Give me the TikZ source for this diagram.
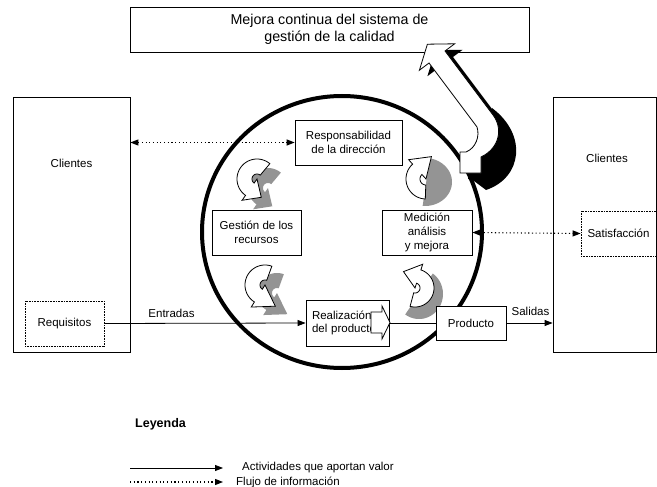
\documentclass[tikz,border=0pt]{standalone}
\usepackage{fontspec}
\setmainfont{Liberation Sans}
\usetikzlibrary{arrows.meta}

% ring-shaped block arrow: #1,#2 centre, #3 inner radius, #4 outer radius,
% #5 start angle (tail), #6 end angle (head), #7 head length, #8 path options
\newcommand\ringarrow[8]{%
  \pgfmathsetmacro\rsgn{sign(#6-#5)}%
  \path[#8] plot[domain=#5:#6,samples=40,variable=\t] ({#1+#4*cos(\t)},{#2+#4*sin(\t)})
    -- ({#1+(#4+6)*cos(#6)},{#2+(#4+6)*sin(#6)})
    -- ({#1+(#3+#4)/2*cos(#6)-#7*\rsgn*sin(#6)},{#2+(#3+#4)/2*sin(#6)+#7*\rsgn*cos(#6)})
    -- ({#1+max(#3-6,0)*cos(#6)},{#2+max(#3-6,0)*sin(#6)})
    -- plot[domain=#6:#5,samples=40,variable=\t] ({#1+#3*cos(\t)},{#2+#3*sin(\t)})
    -- cycle;}

\begin{document}
\begin{tikzpicture}[x=1pt,y=-1pt,
  txt/.style={font=\fontsize{11.5}{13.6}\selectfont},
  box/.style={txt,draw,fill=white,line width=0.8pt,rectangle,inner sep=0pt,align=center},
  dotbox/.style={box,dash pattern=on 0.8pt off 0.8pt},
  lbl/.style={txt,inner sep=0pt},
  flow/.style={line width=0.8pt,-{Triangle[length=8pt,width=6pt]}},
  info/.style={line width=1.1pt,dash pattern=on 1.1pt off 2.6pt},
  infotip/.style={-{Triangle[length=8pt,width=6pt]}},
  infoboth/.style={{Triangle[length=8pt,width=6pt]}-{Triangle[length=8pt,width=6pt]}},
  cyc/.style={fill=white,draw,line width=0.8pt,line join=miter},
  cycshade/.style={fill=black!42},
]
\useasboundingbox (0,0) rectangle (657,487);

% customer blocks on both sides
\node[box,minimum width=117pt,minimum height=255pt] (cliL) at (71.5,224.5) {};
\node[lbl] (cliLt) at (71.5,163) {Clientes};
\node[box,minimum width=103pt,minimum height=255pt] (cliR) at (604.5,224.5) {};
\node[lbl] (cliRt) at (607,158) {Clientes};
\node[dotbox,minimum width=79pt,minimum height=45pt] (req) at (64.5,323.5) {Requisitos};
\node[dotbox,minimum width=75pt,minimum height=45pt] (sat) at (618.5,233.5) {Satisfacción};

% process ring
\draw[line width=4pt] (342,232) ellipse [x radius=140, y radius=136];

% cycle arrows with their shading
\ringarrow{257}{179}{5}{20}{310}{125}{14}{cycshade,shift={(11,9)}}
\ringarrow{257}{179}{5}{20}{310}{125}{14}{cyc}
\fill[cycshade] plot[domain=-80:95,samples=40,variable=\t] ({425+27*cos(\t)},{182+24*sin(\t)}) -- cycle;
\ringarrow{426}{179}{6}{20}{92}{228}{19}{cyc}
\ringarrow{265}{285}{5}{20}{290}{122}{20}{cycshade,shift={(12,8)}}
\ringarrow{265}{285}{5}{20}{290}{122}{20}{cyc}
\fill[cycshade] plot[domain=-55:125,samples=40,variable=\t] ({419+24*cos(\t)},{294+25*sin(\t)}) -- cycle;
\ringarrow{415}{288}{5}{19}{105}{-72}{16}{cyc}

% process blocks
\node[box,minimum width=107pt,minimum height=45pt] (resp) at (348.5,142.5) {Responsabilidad\\de la dirección};
\node[box,minimum width=89pt,minimum height=45pt] (gest) at (256.5,232.5) {Gestión de los\\recursos};
\node[box,minimum width=90pt,minimum height=45pt] (med) at (427,232.5) {Medición\\análisis\\y mejora};
\node[box,minimum height=46pt,text width=71pt,inner xsep=6pt,align=left] (real) at (347.5,323) {Realización\\del producto};
\node[box,minimum width=70pt,minimum height=34pt] (prod) at (471,323) {Producto};
\draw[fill=white,line width=0.8pt] (371,312) -- (382,312) -- (382,306) -- (390,322.5)
  -- (382,339) -- (382,333) -- (371,333) -- cycle;

% value-adding flow
\draw[flow] (req.east) -- (real.west);
\node[lbl] (entr) at (171.5,313) {Entradas};
\draw[line width=0.8pt] (real.east) -- (prod.west);
\draw[flow] (prod.east) -- (prod.east -| cliR.west);
\node[lbl] (sal) at (530.5,311) {Salidas};

% information flow
\draw[info,infoboth] (cliL.east |- resp.west) -- (resp.west);
\draw[info,infoboth] (med.east) -- (sat.west);

% continual improvement
\node[box,minimum width=399pt,minimum height=45pt,font=\fontsize{14.3}{17}\selectfont] (title) at (329.5,29.5) {Mejora continua del sistema de\\gestión de la calidad};
\path[fill=black,shift={(8,6)}] (427.4,44.2) -- (454.6,43.8) -- (445,51) -- (493,115)
  .. controls (503,128) and (500,148) .. (481,157) -- (481,173) -- (460,173) -- (460,152)
  -- (466,152) .. controls (476,148) and (480,136) .. (477,127) -- (429,63) -- (419.4,70.2) -- cycle;
\fill[black] (492,108) .. controls (528,135) and (522,178) .. (486,190) -- (470,178) -- (488,150) -- cycle;
\path[fill=white,draw=black,line width=0.8pt] (427.4,44.2) -- (454.6,43.8) -- (445,51) -- (493,115)
  .. controls (503,128) and (500,148) .. (481,157) -- (481,173) -- (460,173) -- (460,152)
  -- (466,152) .. controls (476,148) and (480,136) .. (477,127) -- (429,63) -- (419.4,70.2) -- cycle;

% legend
\node[lbl,anchor=west,font=\fontsize{12.5}{14}\bfseries] (ley) at (135,424) {Leyenda};
\coordinate (l1a) at (130,468);
\coordinate (l1b) at (223,468);
\draw[flow] (l1a) -- (l1b);
\node[lbl,anchor=west] (l1t) at (242,468) {Actividades que aportan valor};
\coordinate (l2a) at (130,482);
\coordinate (l2b) at (223,482);
\draw[info,infotip] (l2a) -- (l2b);
\node[lbl,anchor=west] (l2t) at (236,482) {Flujo de información};
\end{tikzpicture}
\end{document}
